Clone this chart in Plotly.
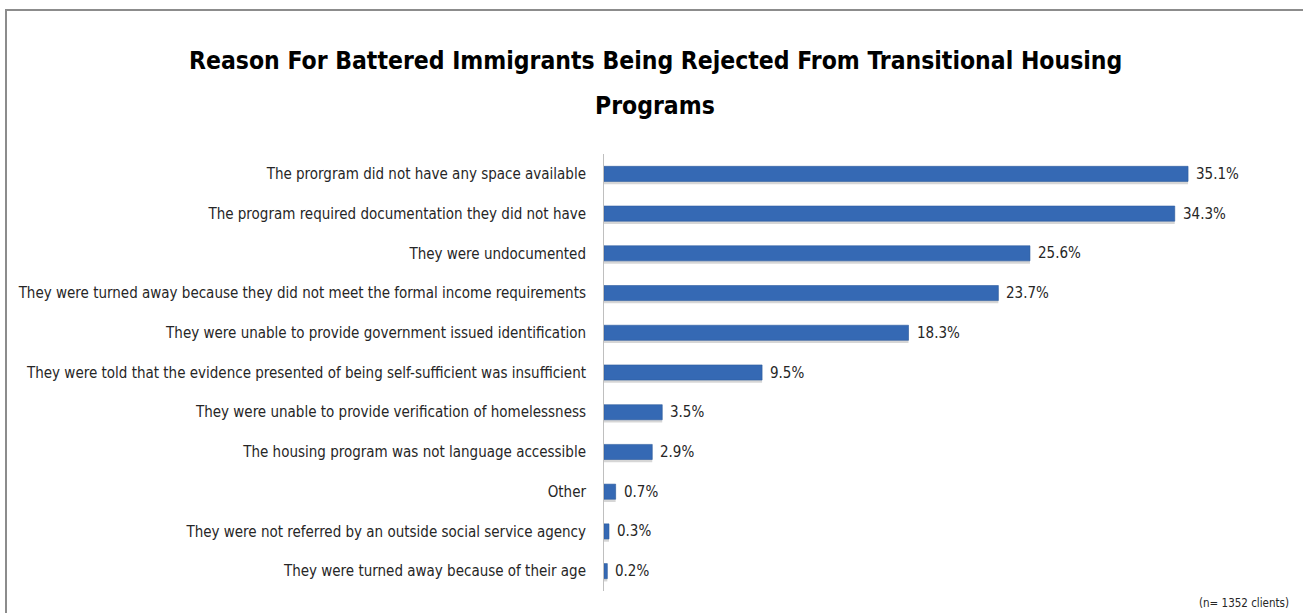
import plotly.graph_objects as go

categories = [
    "The prorgram did not have any space available",
    "The program required documentation they did not have",
    "They were undocumented",
    "They were turned away because they did not meet the formal income requirements",
    "They were unable to provide government issued identification",
    "They were told that the evidence presented of being self-sufficient was insufficient",
    "They were unable to provide verification of homelessness",
    "The housing program was not language accessible",
    "Other",
    "They were not referred by an outside social service agency",
    "They were turned away because of their age",
]
values = [35.1, 34.3, 25.6, 23.7, 18.3, 9.5, 3.5, 2.9, 0.7, 0.3, 0.2]
value_labels = [f"{v:.1f}%" for v in values]

W, H = 1303, 613
L, R, T, B = 604, 13, 154, 22
PW, PH = W - L - R, H - T - B

FONT = "Liberation Sans Narrow, DejaVu Sans Condensed, Arial Narrow, sans-serif"
TXT = "#262626"
BAR_W = 0.38


def px_x(px):
    return (px - L) / PW


def px_y(py):
    return (H - B - py) / PH


fig = go.Figure()
# soft drop shadow under each bar
fig.add_trace(go.Bar(
    y=categories, x=values, orientation="h",
    width=BAR_W, offset=-BAR_W / 2 + 0.07,
    marker=dict(color="rgba(0,0,0,0.16)", line=dict(width=0)),
    hoverinfo="skip",
))
fig.add_trace(go.Bar(
    y=categories, x=values, orientation="h",
    width=BAR_W, offset=-BAR_W / 2,
    marker=dict(color="#3569b4", line=dict(color="#2d5c9e", width=0.6)),
    hoverinfo="skip",
))

annotations = []
for cat, v, lab in zip(categories, values, value_labels):
    annotations.append(dict(
        x=v, y=cat, xref="x", yref="y", text=lab, showarrow=False,
        xanchor="left", xshift=6, font=dict(family=FONT, size=15, color=TXT),
    ))

annotations += [
    dict(x=px_x(655), y=px_y(60), xref="paper", yref="paper",
         text="<b>Reason For Battered Immigrants Being Rejected From Transitional Housing</b>",
         showarrow=False, xanchor="center", yanchor="middle",
         font=dict(family=FONT, size=24.5, color="#000000")),
    dict(x=px_x(655), y=px_y(105), xref="paper", yref="paper",
         text="<b>Programs</b>", showarrow=False, xanchor="center", yanchor="middle",
         font=dict(family=FONT, size=24.5, color="#000000")),
    dict(x=px_x(1291), y=px_y(603), xref="paper", yref="paper",
         text="(n= 1352 clients)", showarrow=False, xanchor="right", yanchor="middle",
         font=dict(family=FONT, size=11.5, color=TXT)),
]

fig.update_layout(
    width=W, height=H,
    margin=dict(l=L, r=R, t=T, b=B, autoexpand=False),
    paper_bgcolor="white", plot_bgcolor="white",
    barmode="overlay",
    showlegend=False,
    annotations=annotations,
    shapes=[dict(type="rect", xref="paper", yref="paper",
                 x0=px_x(6), x1=px_x(1310), y0=px_y(10), y1=px_y(630),
                 line=dict(color="#8c8c8c", width=2), layer="below")],
    xaxis=dict(range=[0, PW / 16.64], visible=False, fixedrange=True),
    yaxis=dict(
        autorange="reversed", showline=True, linecolor="#bfbfbf", linewidth=1,
        showgrid=False, zeroline=False, ticks="", ticklabelstandoff=14,
        tickfont=dict(family=FONT, size=15, color=TXT), fixedrange=True,
    ),
)

fig.write_html("out.html")
